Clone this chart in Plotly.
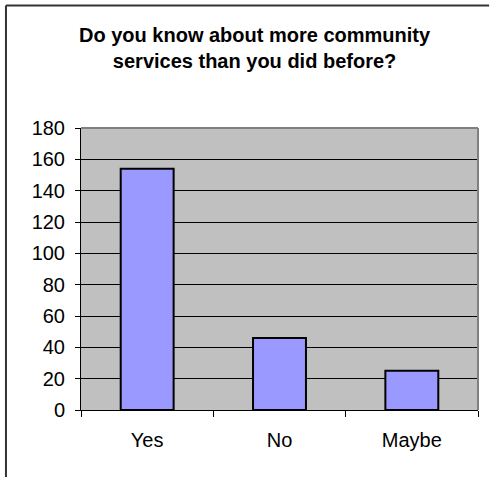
import plotly.graph_objects as go

# Survey responses
categories = ["Yes", "No", "Maybe"]
counts = [154, 46, 25]

title_lines = ["Do you know about more community", "services than you did before?"]
y_ticks = [0, 20, 40, 60, 80, 100, 120, 140, 160, 180]

FONT = "Liberation Sans, Arial, sans-serif"

fig = go.Figure()
fig.add_trace(go.Bar(
    x=categories,
    y=counts,
    width=0.4,
    marker=dict(color="#9999FF", line=dict(color="#000000", width=2)),
    hoverinfo="x+y",
))

# Chart-area outline: top and left edges
fig.add_shape(type="line", xref="paper", yref="paper", x0=-0.189, x1=1.028, y0=1.434, y1=1.434,
              line=dict(color="#333333", width=2))
fig.add_shape(type="line", xref="paper", yref="paper", x0=-0.189, x1=-0.189, y0=1.434, y1=-0.4,
              line=dict(color="#333333", width=2))
# Plot-area frame: grey top and right edges
fig.add_shape(type="line", xref="paper", yref="paper", x0=0, x1=1, y0=1, y1=1,
              line=dict(color="#808080", width=2))
fig.add_shape(type="line", xref="paper", yref="paper", x0=1, x1=1, y0=0, y1=1,
              line=dict(color="#808080", width=2))

# Chart heading
fig.add_annotation(
    text="<b>" + "<br>".join(title_lines) + "</b>",
    xref="paper", yref="paper",
    x=(255 - 81) / 397, xanchor="center",
    y=(410 - 22) / 282, yanchor="top",
    showarrow=False,
    font=dict(family=FONT, size=20, color="#000000"),
)

fig.update_layout(
    width=492, height=477,
    margin=dict(l=81, r=14, t=128, b=67),
    plot_bgcolor="#C0C0C0",
    showlegend=False,
    font=dict(family=FONT, color="#000000", size=20),
    xaxis=dict(
        type="category",
        range=[-0.5, 2.5],
        showgrid=False,
        showline=True, linecolor="#000000", linewidth=1,
        ticks="outside", ticklen=6, tickcolor="#000000", tickwidth=1,
        tickson="boundaries",
        ticklabelstandoff=12,
        tickfont=dict(family=FONT, size=20),
        fixedrange=True,
    ),
    yaxis=dict(
        range=[0, 180],
        tickvals=y_ticks,
        showgrid=True, gridcolor="#000000", gridwidth=1,
        showline=True, linecolor="#000000", linewidth=1,
        ticks="outside", ticklen=5, tickcolor="#000000", tickwidth=1,
        ticklabelstandoff=6,
        tickfont=dict(family=FONT, size=20),
        zeroline=False,
        fixedrange=True,
    ),
)

fig.write_html("out.html")
